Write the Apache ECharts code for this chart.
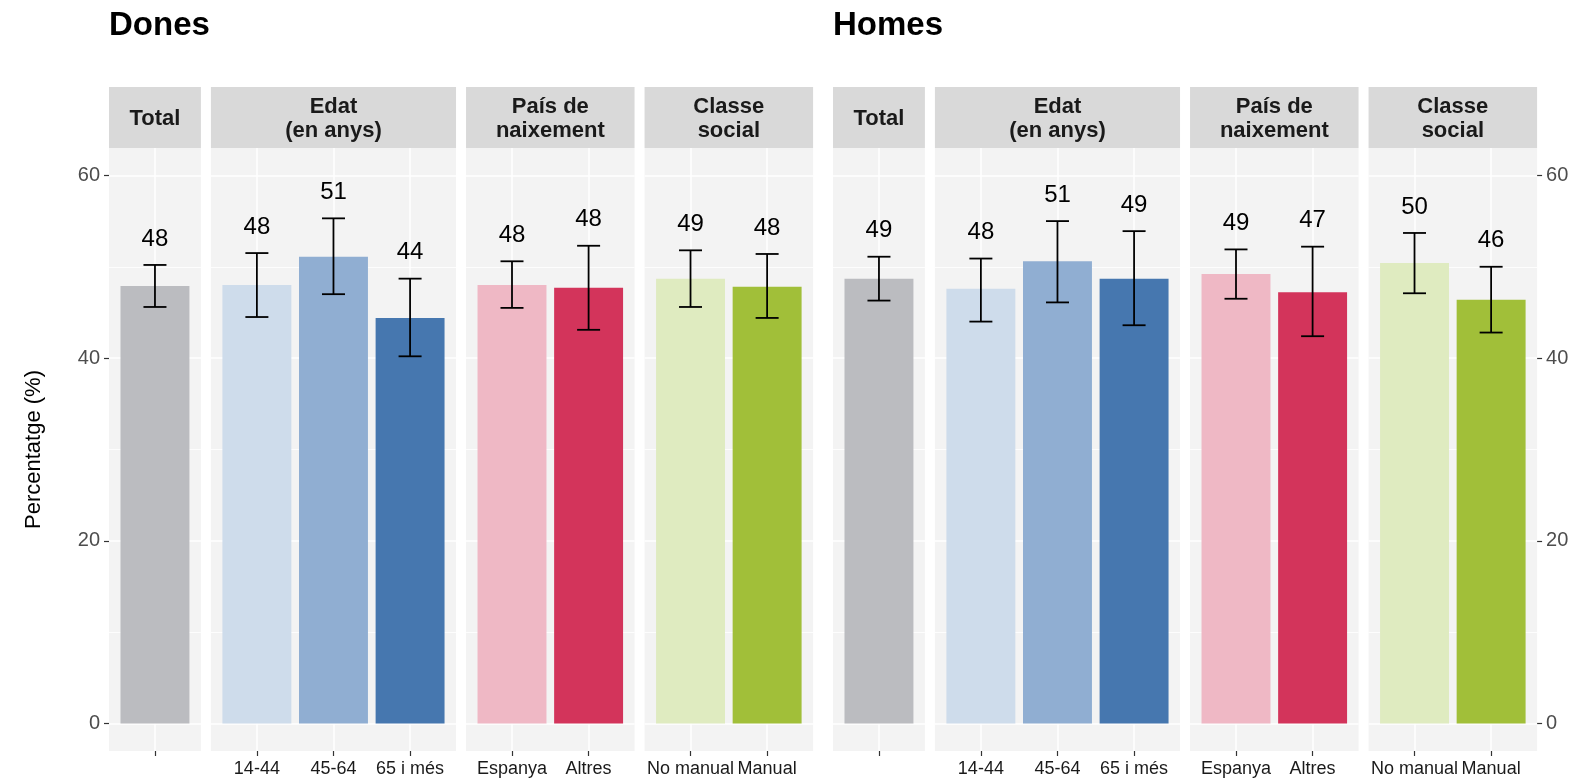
<!DOCTYPE html>
<html>
<head>
<meta charset="utf-8">
<script src="https://cdn.jsdelivr.net/npm/echarts@6/dist/echarts.min.js"></script>
<style>
  html, body { margin: 0; padding: 0; background: #fff; }
  #chart { width: 1581px; height: 782px; }
</style>
</head>
<body>
<div id="chart"></div>
<script>
// facet headers and categories (same for both sexes)
const panelTitles = ['Total', 'Edat\n(en anys)', 'País de\nnaixement', 'Classe\nsocial']
const panelCategories = [[''], ['14-44', '45-64', '65 i més'], ['Espanya', 'Altres'], ['No manual', 'Manual']]
const panelColors = [
  ['#bbbcc0'],
  ['#cedceb', '#90aed2', '#4677af'],
  ['#efb8c5', '#d3345b'],
  ['#dfebc0', '#a1bf39'],
]

// Dones: percentage and 95% interval
const donesValues = [[47.9], [48.0, 51.1, 44.4], [48.0, 47.7], [48.7, 47.8]]
const donesLower = [[45.6], [44.5, 47.0, 40.2], [45.5, 43.1], [45.6, 44.4]]
const donesUpper = [[50.2], [51.5, 55.3, 48.7], [50.6, 52.3], [51.8, 51.4]]

// Homes
const homesValues = [[48.7], [47.6, 50.6, 48.7], [49.2, 47.2], [50.4, 46.4]]
const homesLower = [[46.3], [44.0, 46.1, 43.6], [46.5, 42.4], [47.1, 42.8]]
const homesUpper = [[51.1], [50.9, 55.0, 53.9], [51.9, 52.2], [53.7, 50.0]]

const yTicks = [0, 20, 40, 60]
const yMinor = [10, 30, 50]

const FONT = "'Liberation Sans', Arial, sans-serif"
const UNIT = 76.6 // px per category step
const GAP = 10
const PANEL_TOP = 148
const PANEL_H = 603
const STRIP_TOP = 87

const chart = echarts.init(document.getElementById('chart'))

const grids = []
const xAxes = []
const yAxes = []
const series = []
const graphics = []

// error bar + value label
const renderErr = (params, api) => {
  const x = api.value(0)
  const lo = api.coord([x, api.value(1)])
  const hi = api.coord([x, api.value(2)])
  const half = 11.5
  const style = { stroke: '#000', lineWidth: 1.8 }
  return {
    type: 'group',
    children: [
      { type: 'line', shape: { x1: hi[0], y1: hi[1], x2: lo[0], y2: lo[1] }, style },
      { type: 'line', shape: { x1: hi[0] - half, y1: hi[1], x2: hi[0] + half, y2: hi[1] }, style },
      { type: 'line', shape: { x1: lo[0] - half, y1: lo[1], x2: lo[0] + half, y2: lo[1] }, style },
      {
        type: 'text',
        x: hi[0],
        y: hi[1] - 26,
        style: {
          text: String(api.value(3)),
          align: 'center',
          verticalAlign: 'middle',
          font: '24px ' + FONT,
          fill: '#000',
        },
      },
    ],
  }
}

const addSex = (title, startX, values, lower, upper, axisSide) => {
  graphics.push({
    type: 'text',
    left: startX,
    top: 9,
    style: { text: title, font: 'bold 33px ' + FONT, fill: '#000' },
  })
  let x0 = startX
  panelCategories.forEach((cats, p) => {
    const n = cats.length
    const w = (n + 0.2) * UNIT
    const gi = grids.length
    const idx = cats.map((c, i) => i + 1)

    grids.push({
      left: x0,
      top: PANEL_TOP,
      width: w,
      height: PANEL_H,
      show: true,
      backgroundColor: '#f3f3f3',
      borderWidth: 0,
    })

    // strip header
    graphics.push({
      type: 'rect',
      shape: { x: x0, y: STRIP_TOP, width: w, height: PANEL_TOP - STRIP_TOP },
      style: { fill: '#d9d9d9' },
    })
    graphics.push({
      type: 'text',
      x: x0 + w / 2,
      y: (STRIP_TOP + PANEL_TOP) / 2 + 1,
      style: {
        text: panelTitles[p],
        align: 'center',
        verticalAlign: 'middle',
        font: 'bold 22px ' + FONT,
        lineHeight: 24,
        fill: '#1a1a1a',
      },
    })

    xAxes.push({
      gridIndex: gi,
      type: 'value',
      position: 'bottom',
      min: 0.4,
      max: n + 0.6,
      axisLine: { show: false, onZero: false },
      splitLine: { show: false },
      axisTick: { show: true, customValues: idx, length: 5, lineStyle: { color: '#333', width: 1.2 } },
      axisLabel: {
        customValues: idx,
        formatter: (v) => cats[Math.round(v) - 1] || '',
        fontSize: 18,
        color: '#1a1a1a',
        margin: 9,
      },
    })

    const isLeft = axisSide === 'left' && p === 0
    const isRight = axisSide === 'right' && p === panelCategories.length - 1
    const yAxis = {
      gridIndex: gi,
      type: 'value',
      min: -3,
      max: 63,
      axisLine: { show: false, onZero: false },
      splitLine: { show: false },
      axisTick: { show: false },
      axisLabel: { show: false },
    }
    if (isLeft || isRight) {
      yAxis.position = isLeft ? 'left' : 'right'
      yAxis.axisTick = { show: true, customValues: yTicks, length: 5, lineStyle: { color: '#333', width: 1.2 } }
      yAxis.axisLabel = { show: true, customValues: yTicks, fontSize: 20, color: '#4d4d4d', margin: 9 }
    }
    if (isLeft) {
      yAxis.name = 'Percentatge (%)'
      yAxis.nameLocation = 'middle'
      yAxis.nameRotate = 90
      yAxis.nameGap = 64
      yAxis.nameTextStyle = { fontSize: 22, color: '#000' }
    }
    yAxes.push(yAxis)

    const barData = values[p].map((v, i) => ({
      value: [i + 1, v],
      itemStyle: { color: panelColors[p][i] },
    }))

    // panel grid lines (white, behind the bars)
    series.push({
      type: 'line',
      xAxisIndex: gi,
      yAxisIndex: gi,
      data: values[p].map((v, i) => [i + 1, v]),
      symbol: 'none',
      lineStyle: { opacity: 0 },
      silent: true,
      z: 1,
      markLine: {
        silent: true,
        symbol: 'none',
        animation: false,
        z: 1,
        label: { show: false },
        data: [
          ...yTicks.map((t) => ({ yAxis: t, lineStyle: { color: '#fff', width: 1.5, type: 'solid' } })),
          ...yMinor.map((t) => ({ yAxis: t, lineStyle: { color: '#fff', width: 0.8, type: 'solid' } })),
          ...idx.map((t) => ({ xAxis: t, lineStyle: { color: '#fff', width: 1.5, type: 'solid' } })),
        ],
      },
    })

    series.push({
      type: 'bar',
      xAxisIndex: gi,
      yAxisIndex: gi,
      data: barData,
      barWidth: 0.9 * UNIT,
      z: 2,
    })

    series.push({
      type: 'custom',
      xAxisIndex: gi,
      yAxisIndex: gi,
      renderItem: renderErr,
      encode: { x: 0, y: [1, 2] },
      data: values[p].map((v, i) => [i + 1, lower[p][i], upper[p][i], Math.round(v)]),
      z: 3,
    })

    x0 += w + GAP
  })
}

addSex('Dones', 109, donesValues, donesLower, donesUpper, 'left')
addSex('Homes', 833, homesValues, homesLower, homesUpper, 'right')

chart.setOption({
  animation: false,
  backgroundColor: '#fff',
  textStyle: { fontFamily: FONT },
  grid: grids,
  xAxis: xAxes,
  yAxis: yAxes,
  series,
  graphic: graphics,
})
</script>
</body>
</html>
